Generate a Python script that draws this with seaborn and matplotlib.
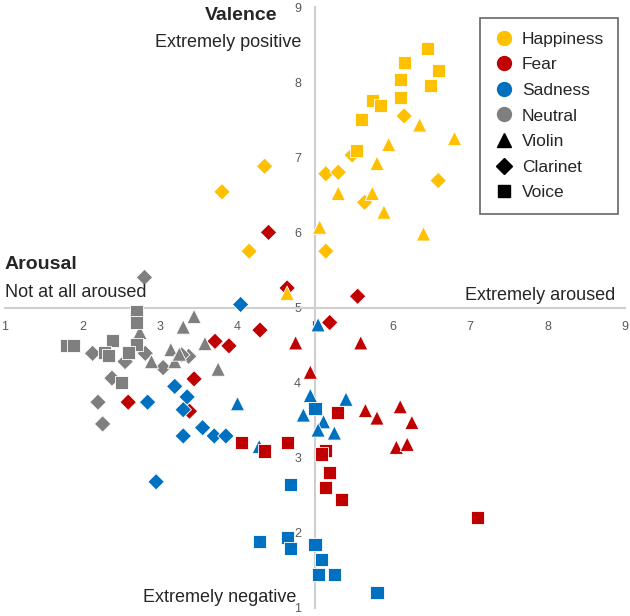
import seaborn as sns
import pandas as pd
import matplotlib.pyplot as plt
from matplotlib.lines import Line2D

# arousal (x) / valence (y) ratings
emotions = ['Happiness', 'Fear', 'Sadness', 'Neutral']
instruments = ['Clarinet', 'Violin', 'Voice']

hap_violin_x = [5.06, 5.30, 5.80, 5.95, 5.74, 5.89, 6.35, 6.80, 6.40, 4.64]
hap_violin_y = [6.07, 6.52, 6.92, 7.17, 6.52, 6.27, 7.43, 7.25, 5.98, 5.19]
hap_clarinet_x = [3.80, 4.35, 4.15, 5.14, 5.30, 5.48, 6.15, 6.59, 5.64, 5.14]
hap_clarinet_y = [6.54, 6.88, 5.75, 6.78, 6.80, 7.03, 7.55, 6.69, 6.40, 5.75]
hap_voice_x = [6.45, 6.59, 6.49, 6.15, 6.10, 6.10, 5.74, 5.85, 5.60, 5.54]
hap_voice_y = [8.45, 8.15, 7.95, 8.26, 8.04, 7.80, 7.75, 7.69, 7.50, 7.09]

fear_violin_x = [4.75, 5.59, 4.94, 5.65, 5.80, 6.10, 6.25, 6.05, 6.19]
fear_violin_y = [4.53, 4.53, 4.14, 3.63, 3.53, 3.68, 3.47, 3.14, 3.18]
fear_clarinet_x = [4.40, 4.64, 5.55, 5.19, 4.29, 3.71, 3.89, 3.44, 2.59, 3.38]
fear_clarinet_y = [6.00, 5.26, 5.15, 4.80, 4.70, 4.55, 4.49, 4.05, 3.74, 3.62]
fear_voice_x = [4.05, 4.35, 4.65, 5.29, 5.14, 5.09, 5.19, 5.14, 5.34, 7.10]
fear_voice_y = [3.20, 3.09, 3.20, 3.60, 3.10, 3.05, 2.80, 2.60, 2.44, 2.20]

sad_violin_x = [4.00, 4.28, 5.04, 4.94, 4.85, 5.11, 5.04, 5.25, 5.40]
sad_violin_y = [3.72, 3.15, 4.77, 3.83, 3.57, 3.48, 3.37, 3.33, 3.78]
sad_clarinet_x = [4.04, 3.19, 3.35, 3.30, 2.84, 3.30, 3.55, 3.70, 3.85, 2.95]
sad_clarinet_y = [5.04, 3.95, 3.81, 3.64, 3.74, 3.29, 3.40, 3.29, 3.29, 2.68]
sad_voice_x = [5.00, 4.69, 4.29, 4.65, 4.69, 5.00, 5.09, 5.04, 5.25, 5.80]
sad_voice_y = [3.65, 2.64, 1.88, 1.94, 1.79, 1.84, 1.64, 1.44, 1.44, 1.20]

neu_violin_x = [3.44, 3.30, 2.74, 3.58, 3.14, 2.89, 3.19, 3.25, 3.75]
neu_violin_y = [4.88, 4.74, 4.67, 4.52, 4.44, 4.28, 4.28, 4.38, 4.18]
neu_clarinet_x = [2.80, 2.13, 2.55, 2.81, 3.04, 3.37, 2.38, 2.20, 2.26, 3.28]
neu_clarinet_y = [5.40, 4.39, 4.28, 4.39, 4.20, 4.35, 4.06, 3.74, 3.45, 4.37]
neu_voice_x = [2.70, 2.70, 2.70, 2.39, 1.80, 1.88, 2.29, 2.33, 2.59, 2.50]
neu_voice_y = [4.95, 4.80, 4.51, 4.56, 4.49, 4.49, 4.40, 4.36, 4.40, 4.00]

ticks = [1, 2, 3, 4, 5, 6, 7, 8, 9]

series = {
    ('Happiness', 'Violin'): (hap_violin_x, hap_violin_y),
    ('Happiness', 'Clarinet'): (hap_clarinet_x, hap_clarinet_y),
    ('Happiness', 'Voice'): (hap_voice_x, hap_voice_y),
    ('Fear', 'Violin'): (fear_violin_x, fear_violin_y),
    ('Fear', 'Clarinet'): (fear_clarinet_x, fear_clarinet_y),
    ('Fear', 'Voice'): (fear_voice_x, fear_voice_y),
    ('Sadness', 'Violin'): (sad_violin_x, sad_violin_y),
    ('Sadness', 'Clarinet'): (sad_clarinet_x, sad_clarinet_y),
    ('Sadness', 'Voice'): (sad_voice_x, sad_voice_y),
    ('Neutral', 'Violin'): (neu_violin_x, neu_violin_y),
    ('Neutral', 'Clarinet'): (neu_clarinet_x, neu_clarinet_y),
    ('Neutral', 'Voice'): (neu_voice_x, neu_voice_y),
}
rows = []
for inst in instruments:
    for emo in emotions:
        xs, ys = series[(emo, inst)]
        for a, v in zip(xs, ys):
            rows.append({'Arousal': a, 'Valence': v, 'Emotion': emo, 'Instrument': inst})
df = pd.DataFrame(rows)

colors = {'Happiness': '#FFC000', 'Fear': '#C00000', 'Sadness': '#0070C0', 'Neutral': '#7F7F7F'}
markers = {'Violin': '^', 'Clarinet': 'D', 'Voice': 's'}
sizes = {'Violin': 105, 'Clarinet': 70, 'Voice': 88}

sns.set_style('white')
plt.rcParams['font.family'] = ['Liberation Sans', 'DejaVu Sans']

fig = plt.figure(figsize=(6.3, 6.16), dpi=100)
ax = fig.add_axes([5 / 630, 8 / 616, 620 / 630, 601 / 616])

for inst in instruments:
    sns.scatterplot(data=df[df['Instrument'] == inst], x='Arousal', y='Valence',
                    hue='Emotion', palette=colors, marker=markers[inst],
                    s=sizes[inst], edgecolor='white', linewidth=0.6,
                    legend=False, ax=ax, zorder=3, clip_on=False)

ax.set_xlim(1, 9)
ax.set_ylim(1, 9)
ax.set_xlabel('')
ax.set_ylabel('')
ax.spines['left'].set_position(('data', 5))
ax.spines['bottom'].set_position(('data', 5))
for side in ['top', 'right']:
    ax.spines[side].set_visible(False)
for side in ['left', 'bottom']:
    ax.spines[side].set_color('#cfcfcf')
    ax.spines[side].set_linewidth(1.5)
ax.set_xticks(ticks)
ax.set_yticks(ticks)
ax.tick_params(axis='both', colors='#cfcfcf', labelcolor='#595959', labelsize=9,
               length=4, width=1, direction='out', pad=6)

ax.text(3.58, 8.89, 'Valence', fontsize=14, fontweight='bold', va='center', ha='left')
ax.text(4.83, 8.53, 'Extremely positive', fontsize=13, va='center', ha='right')
ax.text(1.0, 5.57, 'Arousal', fontsize=14, fontweight='bold', va='center', ha='left')
ax.text(1.0, 5.2, 'Not at all aroused', fontsize=13, va='center', ha='left')
ax.text(8.88, 5.16, 'Extremely aroused', fontsize=13, va='center', ha='right')
ax.text(4.76, 1.14, 'Extremely negative', fontsize=13, va='center', ha='right')

handles = [Line2D([], [], marker='o', color=colors[e], linestyle='', markersize=10) for e in emotions]
handles += [Line2D([], [], marker=markers[i], color='black', linestyle='',
                   markersize=10 if i == 'Violin' else 8) for i in ['Violin', 'Clarinet', 'Voice']]
labels = emotions + ['Violin', 'Clarinet', 'Voice']
leg = ax.legend(handles, labels, loc='upper right', bbox_to_anchor=(0.989, 0.982),
                borderaxespad=0, fontsize=12.5, frameon=True, fancybox=False,
                labelspacing=0.6, handletextpad=0.45, handlelength=1.2,
                borderpad=0.8)
leg.get_frame().set_edgecolor('#404040')
leg.get_frame().set_linewidth(1.2)

fig.savefig('out.png', dpi=100)
